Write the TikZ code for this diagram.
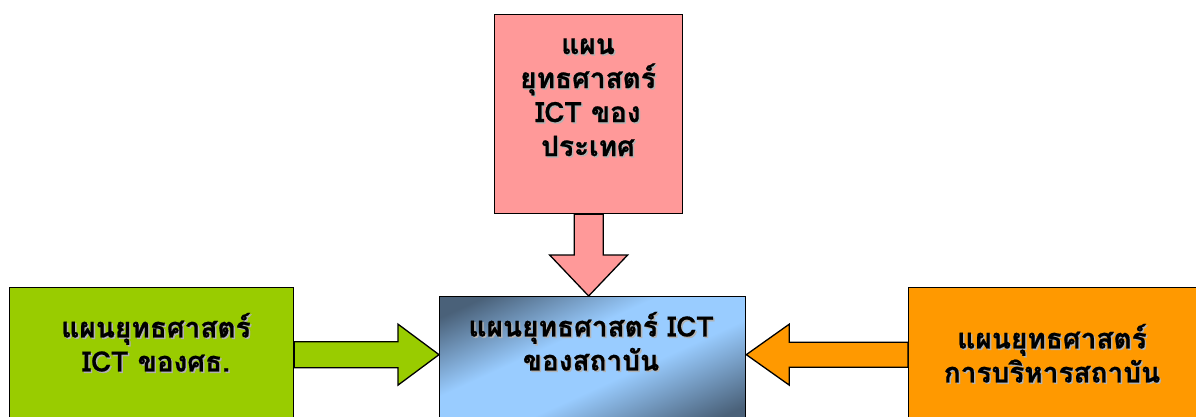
\documentclass[tikz,border=0pt]{standalone}
\usepackage{fontspec}
\newfontfamily\thaifont[Script=Thai, BoldFeatures={FakeBold=0.7}]{Loma}
\usetikzlibrary{calc}

\definecolor{planpink}{HTML}{FF9999}
\definecolor{moegreen}{HTML}{99CC00}
\definecolor{adminorange}{HTML}{FF9900}
\definecolor{instblue}{HTML}{99CCFF}
\definecolor{instslate}{HTML}{4A6179}

\pgfdeclareverticalshading{instshade}{100bp}{color(0bp)=(instslate); color(22bp)=(instslate);
  color(44bp)=(instblue); color(60bp)=(instblue); color(80bp)=(instslate); color(100bp)=(instslate)}

% text with a light grey shadow
\newcommand\shd[1]{\makebox[0pt][l]{\hspace{1.5pt}\raisebox{-1.5pt}{\textcolor{black!30}{#1}}}#1}

\tikzset{
  box/.style={draw=black, line width=1.3pt, anchor=north west, inner sep=0pt},
  lbl/.style={font=\thaifont\bfseries\fontsize{28}{34}\selectfont, align=center},
  fatarrow/.style={draw=black, line width=1.3pt, line join=miter},
}

\begin{document}
\begin{tikzpicture}[x=1pt,y=-1pt]
  \clip (0,0) rectangle (1196,417);
  \fill[white] (0,0) rectangle (1196,417);

  % gradient under the middle box
  \begin{scope}[transform canvas={shift={(439pt,-296pt)}, xscale=2.1857}]
    \shade[shading=instshade, shading angle=45] (0,0) rectangle (140,140);
  \end{scope}

  % boxes
  \node[box, fill=planpink, minimum width=188pt, minimum height=199pt] (plan) at (494,14) {};
  \node[box, fill=moegreen, minimum width=284pt, minimum height=134pt] (moe) at (9,287) {};
  \node[box, minimum width=306pt, minimum height=140pt] (inst) at (439,296) {};
  \node[box, fill=adminorange, minimum width=300pt, minimum height=134pt] (admin) at (908,287) {};

  % block arrows
  \draw[fatarrow, fill=planpink] let \p1=(plan.south), \p2=(plan.south |- inst.north) in
    (\x1-14.5pt,\y1) -- (\x1-14.5pt,\y2+41pt) -- (\x1-39pt,\y2+41pt) -- (\x2,\y2)
    -- (\x1+39pt,\y2+41pt) -- (\x1+14.5pt,\y2+41pt) -- (\x1+14.5pt,\y1) -- cycle;
  \draw[fatarrow, fill=moegreen] let \p1=(moe.east), \p2=(moe.east -| inst.west) in
    (\x1,\y1+13pt) -- (\x2-41pt,\y1+13pt) -- (\x2-41pt,\y1+30.5pt) -- (\x2,\y2)
    -- (\x2-41pt,\y1-30.5pt) -- (\x2-41pt,\y1-13pt) -- (\x1,\y1-13pt) -- cycle;
  \draw[fatarrow, fill=adminorange] let \p1=(admin.west), \p2=(admin.west -| inst.east) in
    (\x1,\y1+12.5pt) -- (\x2+43pt,\y1+12.5pt) -- (\x2+43pt,\y1+30.5pt) -- (\x2,\y2)
    -- (\x2+43pt,\y1-30.5pt) -- (\x2+43pt,\y1-12.5pt) -- (\x1,\y1-12.5pt) -- cycle;

  % labels
  \node[lbl] (planT) at (588,98) {\shd{แผน}\\\shd{ยุทธศาสตร์}\\\shd{ICT ของ}\\\shd{ประเทศ}};
  \node[lbl] (moeT) at (156,343) {\shd{แผนยุทธศาสตร์}\\\shd{ICT ของศธ.}};
  \node[lbl] (instT) at (591,342) {\shd{แผนยุทธศาสตร์ ICT}\\\shd{ของสถาบัน}};
  \node[lbl] (adminT) at (1052,354) {\shd{แผนยุทธศาสตร์}\\\shd{การบริหารสถาบัน}};
\end{tikzpicture}
\end{document}
